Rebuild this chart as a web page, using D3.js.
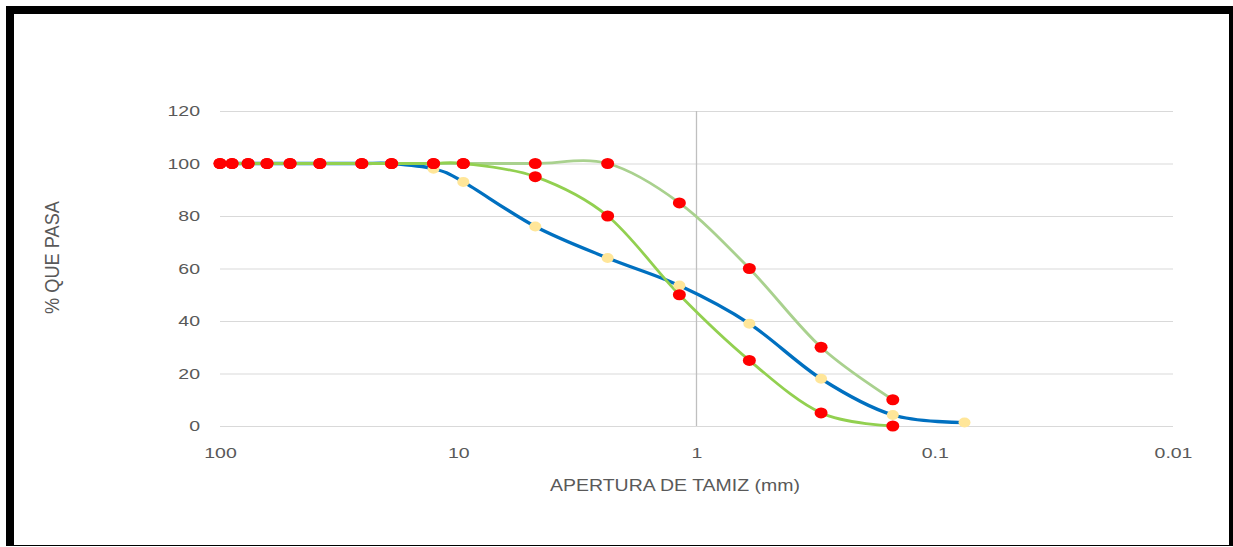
<!DOCTYPE html>
<html>
<head>
<meta charset="utf-8">
<script src="https://cdn.jsdelivr.net/npm/d3@7"></script>
<style>
  body { margin: 0; background: #fff; }
  svg { display: block; font-family: "Liberation Sans", Arial, sans-serif; }
</style>
</head>
<body>
<svg id="chart"></svg>
<script>
// sieve openings (mm)
const tamices = [100, 89, 76.2, 63.5, 50.8, 38.1, 25.4, 19.05, 12.7, 9.525, 4.75, 2.36, 1.18, 0.6, 0.3, 0.15, 0.075];
// sample curve (% passing)
const muestra = [100, 100, 100, 100, 100, 100, 100, 100, 98, 93, 76, 64, 53.5, 39, 18, 4.2, 1.3];
// spec limits
const limiteInferior = [100, 100, 100, 100, 100, 100, 100, 100, 100, 100, 95, 80, 50, 25, 5, 0, null];
const limiteSuperior = [100, 100, 100, 100, 100, 100, 100, 100, 100, 100, 100, 100, 85, 60, 30, 10, null];

const xTicks = [100, 10, 1, 0.1, 0.01];
const yTicks = [0, 20, 40, 60, 80, 100, 120];

const width = 1233, height = 547;
const svg = d3.select('#chart').attr('width', width).attr('height', height);

// frame
svg.append('rect').attr('x', 6).attr('y', 6).attr('width', width - 6).attr('height', 540).attr('fill', '#000');
svg.append('rect').attr('x', 14).attr('y', 14).attr('width', 1215).attr('height', 531).attr('fill', '#fff');

const x = d3.scaleLog().domain([100, 0.01]).range([220, 1173]);
const y = d3.scaleLinear().domain([0, 120]).range([426, 111]);
const sx = 1.3; // text looks stretched sideways

// horizontal grid + y labels
const yAxis = svg.append('g')
    .attr('transform', `translate(${x.range()[0]},0)`)
    .call(d3.axisLeft(y).tickValues(yTicks).tickSize(-(x.range()[1] - x.range()[0])).tickPadding(0));
yAxis.select('.domain').remove();
yAxis.selectAll('line').attr('stroke', '#d9d9d9').attr('stroke-width', 1.2);
yAxis.selectAll('text')
    .attr('x', -20 / sx)
    .attr('transform', `scale(${sx},1)`)
    .attr('fill', '#595959')
    .style('font-size', '15px');

// vertical line at 1 mm
svg.append('line')
    .attr('x1', x(1)).attr('x2', x(1))
    .attr('y1', y(120)).attr('y2', y(0))
    .attr('stroke', '#bfbfbf').attr('stroke-width', 1.3);

// x labels
const xAxis = svg.append('g')
    .attr('transform', `translate(0,${y(0)})`)
    .call(d3.axisBottom(x).tickValues(xTicks).tickFormat(d => String(d)).tickSize(0).tickPadding(21));
xAxis.select('.domain').remove();
xAxis.selectAll('text')
    .attr('transform', `scale(${sx},1)`)
    .attr('fill', '#595959')
    .style('font-size', '15px');

// axis titles
svg.append('text')
    .attr('x', 550).attr('y', 491)
    .attr('textLength', 250).attr('lengthAdjust', 'spacingAndGlyphs')
    .attr('fill', '#595959')
    .style('font-size', '17px')
    .text('APERTURA DE TAMIZ (mm)');

svg.append('text')
    .attr('transform', `translate(52,258) rotate(-90) scale(1,${sx})`)
    .attr('x', -56)
    .attr('dy', '0.35em')
    .attr('textLength', 113).attr('lengthAdjust', 'spacingAndGlyphs')
    .attr('fill', '#595959')
    .style('font-size', '15px')
    .text('% QUE PASA');

const toPts = vals => tamices.map((t, i) => ({t, v: vals[i]})).filter(d => d.v != null);

const line = d3.line()
    .x(d => x(d.t))
    .y(d => y(d.v))
    .curve(d3.curveCardinal.tension(0));

const ptsMuestra = toPts(muestra);
const ptsInf = toPts(limiteInferior);
const ptsSup = toPts(limiteSuperior);

svg.append('path').datum(ptsMuestra).attr('d', line)
    .attr('fill', 'none').attr('stroke', '#0070C0').attr('stroke-width', 3.3);
svg.append('path').datum(ptsSup).attr('d', line)
    .attr('fill', 'none').attr('stroke', '#A9D18E').attr('stroke-width', 2.8);
svg.append('path').datum(ptsInf).attr('d', line)
    .attr('fill', 'none').attr('stroke', '#92D050').attr('stroke-width', 2.8);

svg.append('g').selectAll('ellipse')
    .data(ptsMuestra)
    .join('ellipse')
    .attr('cx', d => x(d.t)).attr('cy', d => y(d.v))
    .attr('rx', 6).attr('ry', 5)
    .attr('fill', '#FFE699');

svg.append('g').selectAll('ellipse')
    .data(ptsSup.concat(ptsInf))
    .join('ellipse')
    .attr('cx', d => x(d.t)).attr('cy', d => y(d.v))
    .attr('rx', 6.5).attr('ry', 5.5)
    .attr('fill', '#FF0000');
</script>
</body>
</html>
